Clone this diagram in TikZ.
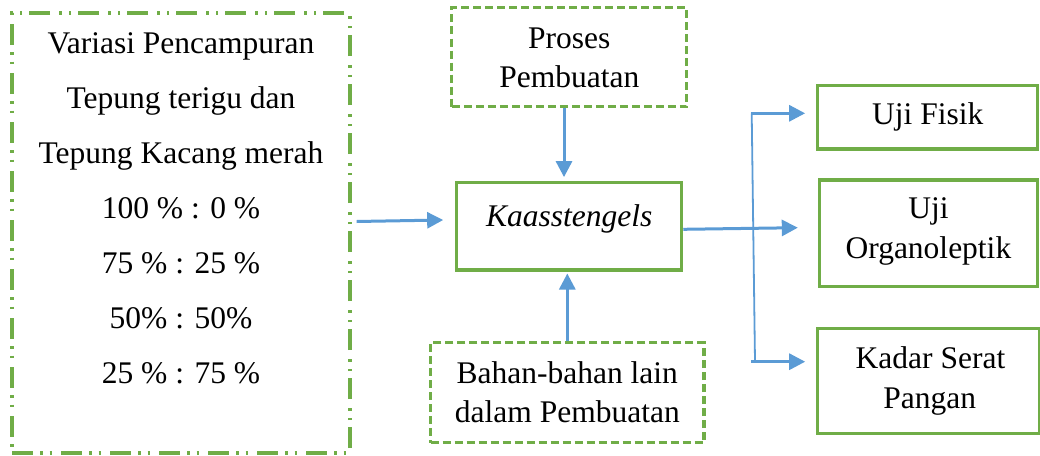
\documentclass[tikz,border=0pt]{standalone}
\usepackage{fontspec}
\setmainfont{Liberation Serif}
\usetikzlibrary{arrows.meta}
\definecolor{boxgreen}{HTML}{70AD47}
\definecolor{arrblue}{HTML}{5B9BD5}
\begin{document}
\begin{tikzpicture}[x=1pt,y=-1pt,
  box/.style={draw=boxgreen,line width=3.1pt,rectangle,inner sep=0pt},
  dashbox/.style={box,dash pattern=on 8pt off 4pt},
  dashdotbox/.style={box,dash pattern=on 21pt off 7pt on 2.5pt off 7pt on 2.5pt off 9pt},
  txt/.style={anchor=base,inner sep=0pt,font=\fontsize{31.5pt}{38pt}\selectfont},
  arr/.style={draw=arrblue,line width=3pt,-{Triangle[length=16pt,width=16pt]}},
  thin/.style={draw=arrblue,line width=1.8pt}
]
\useasboundingbox (0,0) rectangle (1040,455);
% boxes
\node[dashdotbox,minimum width=338pt,minimum height=440pt] (left) at (181,233) {};
\node[dashbox,minimum width=235pt,minimum height=99pt] (proses) at (569.3,57) {};
\node[box,minimum width=225pt,minimum height=87.3pt] (kaas) at (569.2,226.3) {};
\node[dashbox,minimum width=273.3pt,minimum height=100pt] (bahan) at (567.3,392.7) {};
\node[box,minimum width=220.4pt,minimum height=63.3pt] (fisik) at (927.5,117.35) {};
\node[box,minimum width=218.7pt,minimum height=106.7pt] (organ) at (928.4,233.3) {};
\node[box,minimum width=221.7pt,minimum height=105pt] (kadar) at (928.2,380.8) {};
% texts
\node[txt] (l1) at (181,53) {Variasi Pencampuran};
\node[txt] (l2) at (181,108) {Tepung terigu dan};
\node[txt] (l3) at (181,163) {Tepung Kacang merah};
\node[txt] (l4) at (181,218) {100 \% : 0 \%};
\node[txt] (l5) at (181,273) {75 \% : 25 \%};
\node[txt] (l6) at (181,328) {50\% : 50\%};
\node[txt] (l7) at (181,383) {25 \% : 75 \%};
\node[txt] (p1) at (569.3,48.3) {Proses};
\node[txt] (p2) at (569.3,87.5) {Pembuatan};
\node[txt] (k1) at (569.2,226) {\itshape Kaasstengels};
\node[txt] (b1) at (567.3,383.3) {Bahan-bahan lain};
\node[txt] (b2) at (567.3,422.7) {dalam Pembuatan};
\node[txt] (f1) at (927.8,124) {Uji Fisik};
\node[txt] (o1) at (928.6,218.3) {Uji};
\node[txt] (o2) at (928.4,258.3) {Organoleptik};
\node[txt] (d1) at (930.5,368.3) {Kadar Serat};
\node[txt] (d2) at (929.8,408.3) {Pangan};
% connectors
\draw[arr] ([xshift=5pt,yshift=11.5pt]left.east) -- ([xshift=-12pt,yshift=6.3pt]kaas.west);
\draw[arr] ([xshift=-5.3pt]proses.south) -- ([xshift=-5.2pt,yshift=4pt]kaas.north);
\draw[arr] (bahan.north) -- ([yshift=-2pt]bahan.north |- kaas.south);
\draw[arr] ([yshift=-3pt]kaas.east) -- ([xshift=-19.7pt,yshift=5.6pt]organ.west);
\coordinate (bt) at (751.7,113.3);
\coordinate (bb) at (755,361.7);
\draw[thin] (bt) -- (bb);
\draw[arr] ([xshift=-1pt]bt) -- ([xshift=-10.6pt]bt -| fisik.west);
\draw[arr] ([xshift=-4pt]bb) -- ([xshift=-10.6pt]bb -| kadar.west);
\end{tikzpicture}
\end{document}
